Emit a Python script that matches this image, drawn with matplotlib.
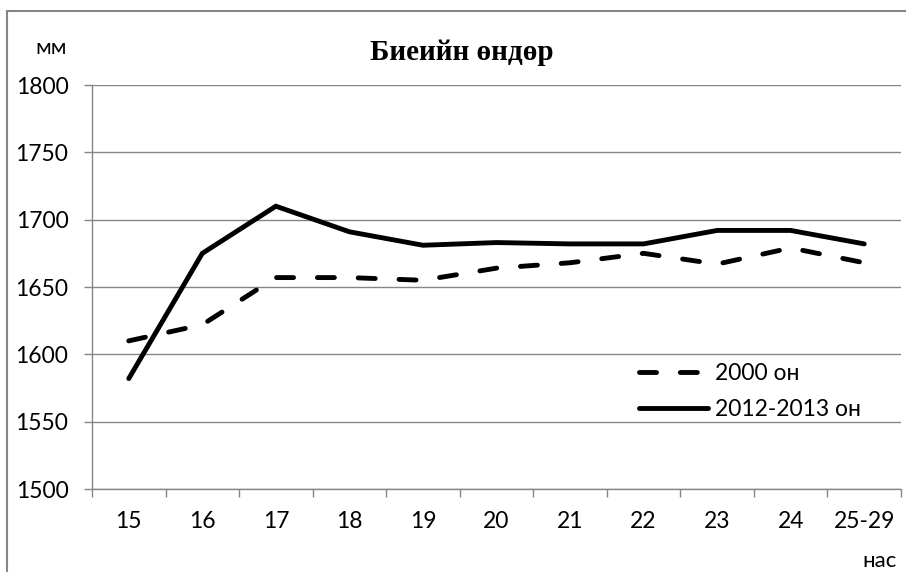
import numpy as np
import matplotlib.pyplot as plt
from matplotlib.patches import Rectangle

ages = ['15', '16', '17', '18', '19', '20', '21', '22', '23', '24', '25-29']
h_2000 = [1610, 1622, 1657, 1657, 1655, 1664, 1668, 1675, 1667, 1679, 1668]
h_2012 = [1582, 1675, 1710, 1691, 1681, 1683, 1682, 1682, 1692, 1692, 1682]

plt.rcParams['font.family'] = ['Lato', 'Noto Sans', 'DejaVu Sans']

fig = plt.figure(figsize=(9.06, 5.72), dpi=100)
ax = fig.add_axes([92 / 906, 1 - 489 / 572, 809 / 906, 404 / 572])

# outer chart frame (cut off on the right and bottom)
fig.patches.append(Rectangle((7 / 906, -0.1), 1.2, 1 - 11 / 572 + 0.1,
                             transform=fig.transFigure, fill=False,
                             edgecolor='#868686', lw=1.5))

x = np.arange(len(ages)) + 0.5
ax.plot(x, h_2000, color='black', lw=3.5, linestyle=(0, (3.5, 4.9)),
        dash_capstyle='round', solid_capstyle='round', label='2000 он')
ax.plot(x, h_2012, color='black', lw=3.5, solid_capstyle='round',
        solid_joinstyle='miter', label='2012-2013 он')

ax.set_xlim(0, len(ages))
ax.set_ylim(1500, 1800)
ax.set_yticks(np.arange(1500, 1801, 50))
ax.set_xticks(x)
ax.set_xticklabels(ages)
ax.set_xticks(np.arange(0, len(ages) + 1), minor=True)
ax.tick_params(axis='x', which='major', length=0, pad=16, labelsize=16.5)
ax.tick_params(axis='x', which='minor', length=6, color='#868686', width=1)
ax.tick_params(axis='y', length=6, color='#868686', width=1, pad=11, labelsize=16.5)
ax.grid(axis='y', color='#868686', lw=1)
ax.set_axisbelow(True)
for s in ['top', 'right']:
    ax.spines[s].set_visible(False)
for s in ['left', 'bottom']:
    ax.spines[s].set_color('#868686')
    ax.spines[s].set_linewidth(1)

ax.legend(loc='upper left', bbox_to_anchor=(0.665, 0.335), frameon=False,
          fontsize=16.5, handlelength=3.0, handletextpad=0.3, labelspacing=0.65,
          borderaxespad=0)

fig.text(462 / 906, 1 - 60 / 572, 'Биеийн өндөр', ha='center', va='baseline',
         fontsize=21, fontweight='bold', family=['Liberation Serif', 'DejaVu Serif'])
fig.text(51 / 906, 1 - 48 / 572, 'мм', ha='center', va='center', fontsize=16)
fig.text(880 / 906, 1 - 561 / 572, 'нас', ha='center', va='center', fontsize=16)

fig.savefig('out.png', dpi=100)
